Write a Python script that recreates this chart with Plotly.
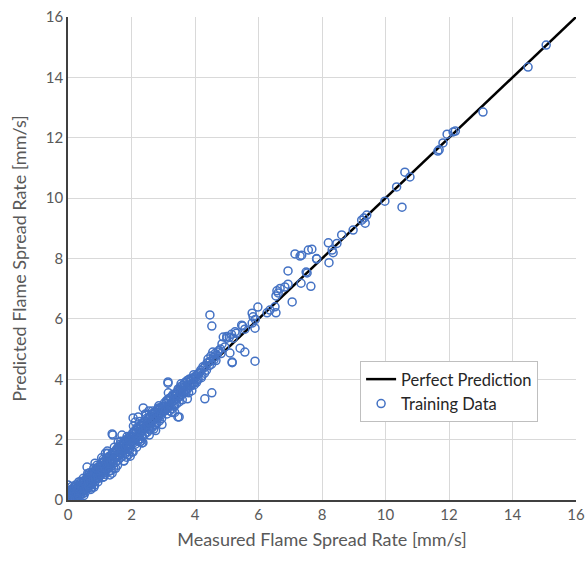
import plotly.graph_objects as go

# Measured vs predicted flame spread rate [mm/s], training set
measured = [
    0.02, 0.05, 0.08, 0.10, 0.12, 0.15, 0.18, 0.20, 0.22, 0.25, 0.27, 0.30, 0.32, 0.35, 0.37, 0.40, 0.42, 0.45, 0.47, 0.50,
    0.52, 0.55, 0.57, 0.60, 0.62, 0.65, 0.67, 0.70, 0.72, 0.75, 0.77, 0.80, 0.82, 0.85, 0.87, 0.90, 0.92, 0.95, 0.97, 0.99,
    0.04, 0.06, 0.11, 0.14, 0.17, 0.21, 0.24, 0.28, 0.31, 0.34, 0.38, 0.41, 0.44, 0.48, 0.51, 0.54, 0.58, 0.61, 0.64, 0.68,
    0.71, 0.74, 0.78, 0.81, 0.84, 0.88, 0.91, 0.94, 0.98,
    0.00, 0.60, 0.82, 0.85, 1.13, 1.10,
    1.02, 1.05, 1.08, 1.10, 1.12, 1.15, 1.18, 1.20, 1.22, 1.25, 1.28, 1.30, 1.32, 1.35, 1.38, 1.40, 1.42, 1.45, 1.48, 1.50,
    1.52, 1.55, 1.58, 1.60, 1.62, 1.65, 1.68, 1.70, 1.72, 1.75, 1.78, 1.80, 1.82, 1.85, 1.88, 1.90, 1.92, 1.95, 1.97, 1.99,
    1.06, 1.16, 1.26, 1.36, 1.46, 1.56, 1.66, 1.76, 1.86, 1.96, 1.03, 1.24, 1.44, 1.64, 1.84,
    1.39, 1.32, 1.76, 1.41, 1.39, 1.70, 1.95, 1.74,
    2.02, 2.05, 2.08, 2.10, 2.12, 2.15, 2.18, 2.20, 2.22, 2.25, 2.28, 2.30, 2.32, 2.35, 2.38, 2.40, 2.42, 2.45, 2.48, 2.50,
    2.52, 2.55, 2.58, 2.60, 2.62, 2.65, 2.68, 2.70, 2.72, 2.75, 2.78, 2.80, 2.82, 2.85, 2.88, 2.90, 2.92, 2.95, 2.97, 2.99,
    2.06, 2.16, 2.26, 2.36, 2.46, 2.56, 2.66, 2.76, 2.86, 2.96,
    2.02, 2.05, 2.33, 2.27, 2.37, 2.21, 2.05,
    3.02, 3.05, 3.08, 3.10, 3.12, 3.15, 3.18, 3.20, 3.22, 3.25, 3.28, 3.30, 3.32, 3.35, 3.38, 3.40, 3.42, 3.45, 3.48, 3.50,
    3.55, 3.58, 3.60, 3.62, 3.65, 3.70, 3.72, 3.75, 3.78, 3.80, 3.85, 3.88, 3.90, 3.95, 3.98,
    3.16, 3.36, 3.56, 3.76, 3.96,
    3.15, 3.15, 3.47, 3.50, 3.46, 3.28,
    4.02, 4.05, 4.08, 4.10, 4.15, 4.20, 4.25, 4.30, 4.38, 4.41, 4.45, 4.50, 4.56, 4.60, 4.69, 4.75, 4.85, 4.89, 4.94, 5.00,
    5.00, 5.08, 5.10, 5.15, 5.17, 5.17, 5.20, 5.26, 5.30, 5.42, 5.47, 5.50, 5.57, 5.57,
    4.31, 4.53, 4.47, 4.53,
    5.80, 5.83, 5.90, 5.80, 5.89, 5.98, 5.89, 6.27, 6.36, 6.52, 6.55, 6.55, 6.62, 6.58, 6.68, 6.83, 6.93, 7.06, 6.93, 7.53,
    7.34, 7.65, 7.15, 7.31, 7.57, 7.68, 7.83, 7.83, 7.50, 7.36,
    8.22, 8.20, 8.32, 8.35, 8.47, 8.62, 8.98, 9.25, 9.32, 9.41, 9.36, 9.98, 10.35, 10.52, 10.61, 10.77, 11.65, 11.69, 11.81, 11.94,
    12.13, 12.20, 13.07, 14.49, 15.06,
    # additional samples in the dense low-rate band
    0.03, 0.07, 0.09, 0.13, 0.16, 0.19, 0.23, 0.26, 0.29, 0.33, 0.36, 0.39, 0.43, 0.46, 0.49, 0.53, 0.56, 0.59, 0.63, 0.66,
    0.69, 0.73, 0.76, 0.79, 0.83, 0.86, 0.89, 0.93, 0.96, 0.99, 0.01, 0.05, 0.12, 0.20, 0.29, 0.40, 0.50, 0.62, 0.72, 0.90,
    1.01, 1.04, 1.07, 1.11, 1.14, 1.17, 1.21, 1.23, 1.27, 1.31, 1.34, 1.37, 1.41, 1.43, 1.47, 1.51, 1.54, 1.57, 1.61, 1.63,
    1.67, 1.71, 1.73, 1.77, 1.81, 1.83, 1.87, 1.91, 1.94, 1.98, 1.18, 1.50, 1.58, 1.90, 1.29,
    2.01, 2.04, 2.07, 2.11, 2.14, 2.17, 2.19, 2.23, 2.27, 2.29, 2.33, 2.37, 2.41, 2.44, 2.47, 2.51, 2.54, 2.57, 2.61, 2.64,
    2.67, 2.71, 2.74, 2.77, 2.81, 2.84, 2.87, 2.91, 2.94, 2.98, 2.12, 2.30, 2.55, 2.70, 2.44,
    3.01, 3.04, 3.07, 3.11, 3.14, 3.17, 3.21, 3.24, 3.27, 3.31, 3.34, 3.37, 3.41, 3.44, 3.47, 3.51, 3.54, 3.57, 3.61, 3.64,
    3.67, 3.71, 3.74, 3.77, 3.81, 3.84, 3.87, 3.91, 3.94, 3.97, 4.03, 4.07, 4.12, 4.18, 4.22, 4.28, 4.33, 4.36, 4.42, 4.48,
    4.52, 4.58, 4.63, 4.66, 4.72, 4.80, 4.82,
]
predicted = [
    0.05, 0.12, 0.02, 0.20, 0.08, 0.25, 0.10, 0.30, 0.15, 0.35, 0.20, 0.12, 0.42, 0.28, 0.50, 0.33, 0.22, 0.55, 0.40, 0.30,
    0.62, 0.45, 0.70, 0.52, 0.38, 0.75, 0.60, 0.48, 0.85, 0.68, 0.55, 0.92, 0.78, 0.62, 1.00, 0.85, 0.70, 1.08, 0.90, 0.78,
    0.30, 0.22, 0.35, 0.05, 0.40, 0.05, 0.50, 0.38, 0.25, 0.60, 0.15, 0.48, 0.30, 0.72, 0.45, 0.25, 0.62, 0.80, 0.50, 0.90,
    0.62, 0.40, 0.75, 1.05, 0.50, 0.80, 1.15, 0.60, 1.00,
    0.50, 1.09, 0.43, 1.22, 0.77, 0.75,
    1.10, 0.95, 1.25, 1.05, 0.90, 1.30, 1.15, 1.00, 1.38, 1.20, 1.05, 1.45, 1.28, 1.12, 1.50, 1.35, 1.20, 1.58, 1.40, 1.25,
    1.65, 1.50, 1.32, 1.72, 1.55, 1.40, 1.80, 1.62, 1.45, 1.88, 1.70, 1.52, 1.95, 1.78, 1.60, 2.05, 1.85, 1.68, 2.12, 1.92,
    1.40, 0.85, 1.55, 0.98, 1.75, 1.15, 1.95, 1.30, 2.10, 1.45, 0.82, 1.62, 1.05, 1.85, 1.42,
    0.89, 0.83, 1.29, 2.15, 2.19, 2.15, 2.09, 1.69,
    2.10, 1.95, 2.25, 2.05, 1.85, 2.30, 2.12, 1.95, 2.40, 2.20, 2.02, 2.48, 2.30, 2.10, 2.55, 2.38, 2.18, 2.62, 2.45, 2.25,
    2.70, 2.52, 2.32, 2.78, 2.60, 2.40, 2.85, 2.68, 2.48, 2.92, 2.75, 2.55, 3.00, 2.82, 2.62, 3.05, 2.88, 2.70, 3.10, 2.92,
    2.45, 1.75, 2.60, 1.90, 2.80, 2.15, 2.95, 2.30, 3.12, 2.50,
    1.60, 1.59, 1.89, 1.93, 3.05, 2.75, 2.72,
    3.10, 2.95, 3.20, 3.02, 2.85, 3.30, 3.12, 2.95, 3.38, 3.20, 3.02, 3.45, 3.28, 3.10, 3.50, 3.35, 3.18, 3.58, 3.40, 3.25,
    3.65, 3.48, 3.32, 3.72, 3.55, 3.75, 3.58, 3.90, 3.70, 3.55, 3.95, 3.78, 3.62, 4.00, 3.82,
    3.55, 2.90, 3.85, 3.35, 4.15,
    3.91, 3.87, 3.64, 2.75, 2.75, 2.90,
    4.05, 3.90, 4.15, 4.00, 4.22, 4.05, 4.41, 4.20, 4.54, 4.67, 4.45, 4.77, 4.90, 4.65, 4.80, 4.95, 5.17, 5.40, 5.07, 5.36,
    5.42, 5.39, 4.87, 5.49, 4.57, 4.55, 5.36, 5.57, 5.52, 5.03, 5.79, 5.76, 5.66, 4.90,
    3.35, 3.55, 6.13, 5.76,
    6.19, 6.07, 5.98, 5.86, 5.69, 6.39, 4.60, 6.20, 6.29, 6.40, 6.20, 6.76, 6.86, 6.93, 7.01, 7.06, 7.15, 6.56, 7.59, 7.52,
    7.18, 7.08, 8.15, 8.08, 8.28, 8.31, 8.00, 7.98, 7.55, 8.11,
    7.86, 8.52, 8.28, 8.19, 8.50, 8.78, 8.94, 9.27, 9.34, 9.44, 9.17, 9.90, 10.37, 9.70, 10.86, 10.70, 11.56, 11.60, 11.83, 12.12,
    12.19, 12.22, 12.85, 14.34, 15.07,
    # additional samples in the dense low-rate band
    0.15, 0.08, 0.28, 0.18, 0.32, 0.22, 0.12, 0.45, 0.30, 0.18, 0.40, 0.55, 0.38, 0.20, 0.58, 0.35, 0.55, 0.42, 0.68, 0.45,
    0.78, 0.58, 0.88, 0.65, 0.90, 0.72, 0.95, 0.82, 0.72, 1.12, 0.22, 0.02, 0.45, 0.42, 0.05, 0.62, 0.15, 0.88, 0.35, 1.05,
    0.95, 1.20, 1.00, 1.35, 1.12, 0.98, 1.25, 1.08, 1.40, 1.15, 1.42, 1.25, 1.55, 1.30, 1.60, 1.42, 1.70, 1.45, 1.62, 1.78,
    1.55, 1.85, 1.65, 1.92, 1.75, 2.00, 1.82, 1.70, 2.00, 1.80, 1.55, 1.05, 1.92, 1.50, 0.95,
    2.00, 2.22, 1.90, 2.30, 2.05, 2.40, 2.20, 2.02, 2.45, 2.25, 2.55, 2.32, 2.60, 2.40, 2.70, 2.50, 2.35, 2.75, 2.55, 2.85,
    2.62, 2.90, 2.70, 2.50, 2.85, 3.05, 2.78, 3.00, 2.82, 3.05, 2.58, 1.95, 2.95, 2.35, 2.85,
    3.00, 3.22, 2.98, 3.30, 3.08, 3.35, 3.15, 3.40, 3.25, 3.50, 3.30, 3.20, 3.52, 3.35, 3.68, 3.48, 3.75, 3.55, 3.80, 3.62,
    3.88, 3.65, 3.95, 3.78, 4.00, 3.82, 4.02, 3.85, 4.05, 3.90, 4.12, 3.98, 4.20, 4.30, 4.12, 4.38, 4.45, 4.30, 4.55, 4.60,
    4.50, 4.72, 4.85, 4.62, 4.90, 5.00, 4.85,
]

# 1:1 reference line
ideal_x = [0, 16]
ideal_y = [0, 16]

x_ticks = [0, 2, 4, 6, 8, 10, 12, 14, 16]
y_ticks = [0, 2, 4, 6, 8, 10, 12, 14, 16]

font_family = "Lato, 'Open Sans', sans-serif"
text_gray = "#595959"

fig = go.Figure()
fig.add_trace(go.Scatter(
    x=ideal_x, y=ideal_y, mode="lines", name="Perfect Prediction",
    line=dict(color="black", width=2.5),
))
fig.add_trace(go.Scatter(
    x=measured, y=predicted, mode="markers", name="Training Data",
    marker=dict(symbol="circle-open", size=8, color="#4472C4", line=dict(width=1.5, color="#4472C4")),
))

axis_common = dict(
    range=[0, 16], tickvals=x_ticks, showgrid=True, gridcolor="#d9d9d9", gridwidth=1.2,
    zeroline=False, showline=True, linecolor="#404040", linewidth=1.6,
    ticks="", tickfont=dict(family=font_family, size=15, color=text_gray),
    fixedrange=True, automargin=False,
)

fig.update_layout(
    width=586, height=563,
    margin=dict(l=68, r=10, t=17, b=63),
    paper_bgcolor="white", plot_bgcolor="white",
    xaxis=dict(**axis_common, title=dict(text="Measured Flame Spread Rate [mm/s]",
                                         font=dict(family=font_family, size=18, color=text_gray),
                                         standoff=12)),
    yaxis=dict(**{**axis_common, "tickvals": y_ticks},
               title=dict(text="Predicted Flame Spread Rate [mm/s]",
                          font=dict(family=font_family, size=18, color=text_gray),
                          standoff=14)),
    legend=dict(
        x=0.575, y=0.288, xanchor="left", yanchor="top",
        bgcolor="white", bordercolor="#bfbfbf", borderwidth=1,
        font=dict(family=font_family, size=16.5, color="#262626"),
        tracegroupgap=2,
    ),
    showlegend=True,
)

fig.write_html("out.html")
